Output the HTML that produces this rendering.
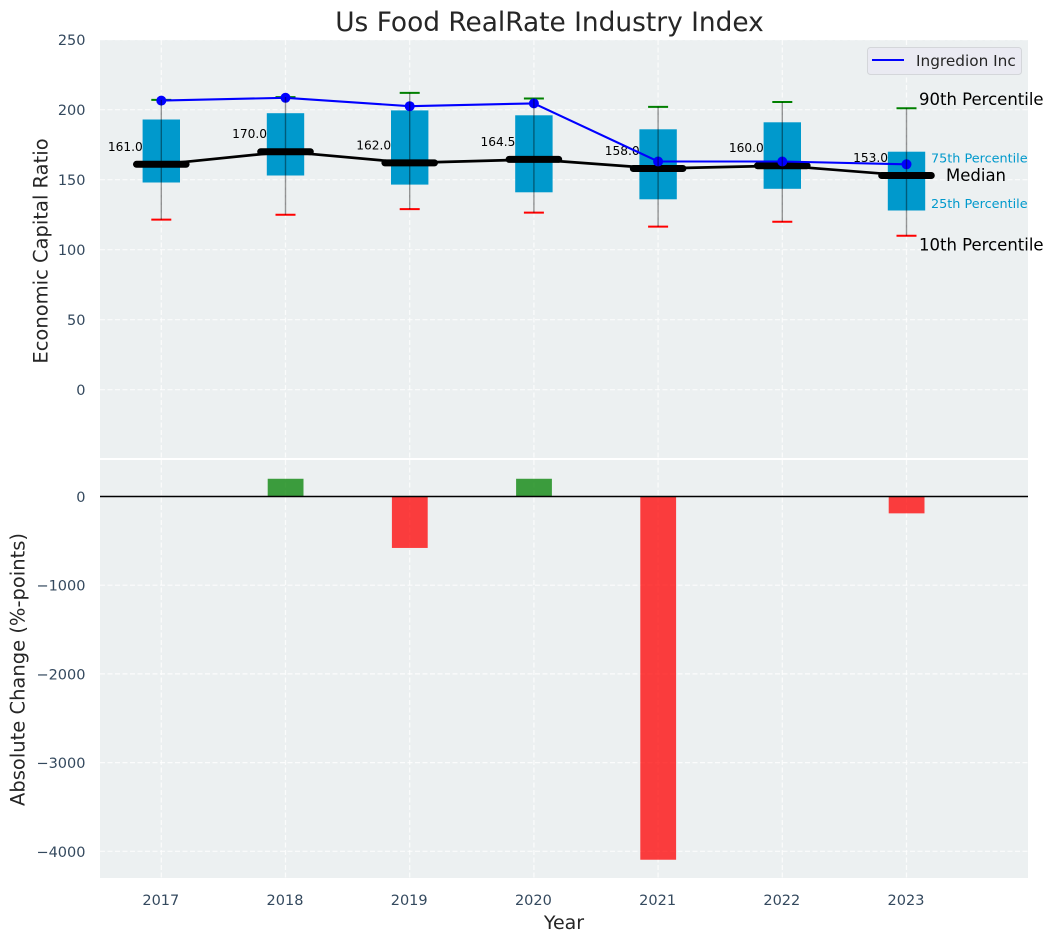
<!DOCTYPE html>
<html lang="en">
<head>
<meta charset="utf-8">
<title>Us Food RealRate Industry Index</title>
<style>
html,body{margin:0;padding:0;background:#fff;width:1054px;height:942px;overflow:hidden}
svg{display:block;font-family:"DejaVu Sans","Liberation Sans",sans-serif}
</style>
</head>
<body>
<svg id="chart" xmlns="http://www.w3.org/2000/svg" width="1054" height="942" viewBox="0 0 1054 942">
  <rect x="0" y="0" width="1054" height="942" fill="#ffffff"/>
  <rect x="100" y="40" width="928" height="418" fill="#ecf0f1"/>
  <rect x="100" y="460" width="928" height="418" fill="#ecf0f1"/>
  <g id="grid"></g>
  <g id="bars"></g>
  <g id="boxes"></g>
  <g id="caps"></g>
  <g id="medians"></g>
  <g id="company"></g>
  <g id="whiskers"></g>
  <g id="ticks"></g>
  <text x="549.5" y="31" text-anchor="middle" font-size="26.4" fill="#262626">Us Food RealRate Industry Index</text>
  <text transform="translate(47.5,251) rotate(-90)" text-anchor="middle" font-size="19.5" fill="#262626">Economic Capital Ratio</text>
  <text transform="translate(24.5,669.5) rotate(-90)" text-anchor="middle" font-size="19.5" fill="#262626">Absolute Change (%-points)</text>
  <text x="564" y="929" text-anchor="middle" font-size="19" fill="#262626">Year</text>
  <g>
    <rect x="867.5" y="47.5" width="154" height="27" rx="3" fill="#eaeaf2" stroke="#d4d6da" stroke-width="1"/>
    <line x1="872" y1="60" x2="904" y2="60" stroke="#0000ff" stroke-width="2"/>
    <text x="916" y="66" font-size="15.3" fill="#262626">Ingredion Inc</text>
  </g>
  <g>
    <text x="919" y="105" font-size="16.5" fill="#000000">90th Percentile</text>
    <text x="931" y="162.5" font-size="12.8" fill="#0099cc">75th Percentile</text>
    <text x="946" y="181" font-size="16.5" fill="#000000">Median</text>
    <text x="931" y="208" font-size="12.8" fill="#0099cc">25th Percentile</text>
    <text x="919" y="250.5" font-size="16.5" fill="#000000">10th Percentile</text>
  </g>
</svg>
<script>
var years = [2017, 2018, 2019, 2020, 2021, 2022, 2023];
var medianValues = [161, 170, 162, 164.5, 158, 160, 153];
var q3Values = [193, 197.5, 199.5, 196, 186, 191, 170];
var q1Values = [148, 153, 146.5, 141, 136, 143.5, 128];
var p90Values = [207, 209, 212, 208, 202, 205.5, 201];
var p10Values = [121.5, 125, 129, 126.5, 116.5, 120, 110];
var companyValues = [206.5, 208.5, 202.5, 204.5, 163, 163, 161];
var changeValues = [0, 200, -580, 200, -4095, 0, -190];
var topTicks = [0, 50, 100, 150, 200, 250];
var bottomTicks = [0, -1000, -2000, -3000, -4000];

function xScale(year) { return 161.3 + (year - 2017) * 124.2; }
function yTop(v) { return 389.7 - 1.4 * v; }
function yBottom(v) { return 496.5 - 0.0887 * v; }

var NS = 'http://www.w3.org/2000/svg';
function draw(parentId, tag, props, text) {
  var node = document.createElementNS(NS, tag);
  for (var key in props) { node.setAttribute(key, props[key]); }
  if (text !== undefined) { node.textContent = text; }
  document.getElementById(parentId).appendChild(node);
  return node;
}
var el;

/* grid */
topTicks.forEach(function (t) {
  el = draw('grid', 'line', {x1: 100, x2: 1028, y1: yTop(t), y2: yTop(t), stroke: '#ffffff', 'stroke-width': 1.2, 'stroke-dasharray': '5 2.5', opacity: 0.8});
  
  
  el = draw('ticks', 'text', {x: 85.5, y: yTop(t) + 5.5, 'text-anchor': 'end', 'font-size': 14.5, fill: '#34495e'}, String(t));
  
  
});
bottomTicks.forEach(function (t) {
  el = draw('grid', 'line', {x1: 100, x2: 1028, y1: yBottom(t), y2: yBottom(t), stroke: '#ffffff', 'stroke-width': 1.2, 'stroke-dasharray': '5 2.5', opacity: 0.8});
  
  
  el = draw('ticks', 'text', {x: 85.5, y: yBottom(t) + 5.5, 'text-anchor': 'end', 'font-size': 14.5, fill: '#34495e'}, String(t).replace('-', '\u2212'));
  
  
});
years.forEach(function (year) {
  var x = xScale(year);
  el = draw('grid', 'line', {x1: x, x2: x, y1: 40, y2: 458, stroke: '#ffffff', 'stroke-width': 1.2, 'stroke-dasharray': '5 2.5', opacity: 0.8});
  
  
  el = draw('grid', 'line', {x1: x, x2: x, y1: 460, y2: 878, stroke: '#ffffff', 'stroke-width': 1.2, 'stroke-dasharray': '5 2.5', opacity: 0.8});
  
  
  el = draw('ticks', 'text', {x: x - 0.5, y: 905, 'text-anchor': 'middle', 'font-size': 14.5, fill: '#34495e'}, String(year));
  
  
});

/* change bars */
changeValues.forEach(function (v, i) {
  if (v === 0) { return; }
  var x = xScale(years[i]);
  var y0 = yBottom(0), y1 = yBottom(v);
  el = draw('bars', 'rect', {x: x - 17.8, y: Math.min(y0, y1), width: 35.8, height: Math.abs(y1 - y0), fill: v > 0 ? '#008000' : '#ff0000', opacity: 0.75});
  
  
});
el = draw('bars', 'line', {x1: 100, x2: 1028, y1: yBottom(0), y2: yBottom(0), stroke: '#000000', 'stroke-width': 1.4});



/* boxes */
years.forEach(function (year, i) {
  var x = xScale(year);
  el = draw('boxes', 'rect', {x: x - 18.7, y: yTop(q3Values[i]), width: 37.4, height: yTop(q1Values[i]) - yTop(q3Values[i]), fill: '#0099cc'});
  
  
});

/* caps */
years.forEach(function (year, i) {
  var x = xScale(year);
  el = draw('caps', 'line', {x1: x - 10, x2: x + 10, y1: yTop(p90Values[i]), y2: yTop(p90Values[i]), stroke: '#008000', 'stroke-width': 2});
  
  
  el = draw('caps', 'line', {x1: x - 10, x2: x + 10, y1: yTop(p10Values[i]), y2: yTop(p10Values[i]), stroke: '#ff0000', 'stroke-width': 2});
  
  
});

/* median connecting line, thick median marks and labels */
var medianPoints = years.map(function (year, i) { return xScale(year) + ',' + yTop(medianValues[i]); }).join(' ');
el = draw('medians', 'polyline', {points: medianPoints, fill: 'none', stroke: '#000000', 'stroke-width': 2.7});


years.forEach(function (year, i) {
  var x = xScale(year), y = yTop(medianValues[i]);
  el = draw('medians', 'line', {x1: x - 24.8, x2: x + 24.8, y1: y, y2: y, stroke: '#000000', 'stroke-width': 7, 'stroke-linecap': 'round'});
  
  
  el = draw('medians', 'text', {x: x - 18.5, y: y - 13.5, 'text-anchor': 'end', 'font-size': 12.2, fill: '#000000'}, medianValues[i].toFixed(1));
  
  
});

/* company series */
var companyPoints = years.map(function (year, i) { return xScale(year) + ',' + yTop(companyValues[i]); }).join(' ');
el = draw('company', 'polyline', {points: companyPoints, fill: 'none', stroke: '#0000ff', 'stroke-width': 2.1});


years.forEach(function (year, i) {
  el = draw('company', 'circle', {cx: xScale(year), cy: yTop(companyValues[i]), r: 5, fill: '#0000ff'});
  
  
});

/* whiskers */
years.forEach(function (year, i) {
  var x = xScale(year);
  el = draw('whiskers', 'line', {x1: x, x2: x, y1: yTop(p90Values[i]), y2: yTop(p10Values[i]), stroke: '#000000', 'stroke-width': 1.4, opacity: 0.4});
  
  
});
</script>
</body>
</html>
